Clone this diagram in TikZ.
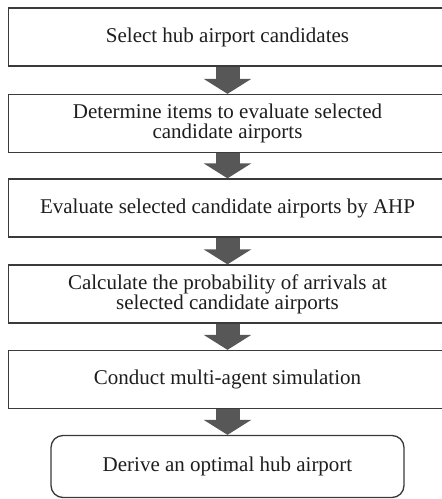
\documentclass[tikz,border=0pt]{standalone}
\usepackage{fontspec}
\setmainfont{Liberation Serif}
\usetikzlibrary{arrows.meta}
\definecolor{boxline}{HTML}{3A3A3A}
\definecolor{arrowgray}{HTML}{575757}
\definecolor{txt}{HTML}{1E1E1E}
\begin{document}
\begin{tikzpicture}[x=1pt,y=-1pt,
  stepbox/.style={draw=boxline,line width=1.3pt,fill=white,minimum width=438pt,
    minimum height=58pt,inner sep=0pt,align=center,text=txt,
    font=\fontsize{21}{20}\selectfont},
  endbox/.style={stepbox,rounded corners=12pt,minimum width=353pt,minimum height=62pt},
  flowarrow/.style={draw=arrowgray,line width=24pt,
    -{Triangle[width=47pt,length=15pt,fill=arrowgray]}}]
\useasboundingbox (0,0) rectangle (442,499);
\node[stepbox] (b1) at (227.5,37) {Select hub airport candidates};
\node[stepbox] (b2) at (227.5,123.5) {Determine items to evaluate selected\\candidate airports};
\node[stepbox] (b3) at (227.5,208) {Evaluate selected candidate airports by AHP};
\node[stepbox] (b4) at (227.5,294) {Calculate the probability of arrivals at\\selected candidate airports};
\node[stepbox] (b5) at (227.5,379.5) {Conduct multi-agent simulation};
\node[endbox] (b6) at (227.5,466.5) {Derive an optimal hub airport};
\draw[flowarrow] (b1.south) -- (b2.north);
\draw[flowarrow] (b2.south) -- (b3.north);
\draw[flowarrow] (b3.south) -- (b4.north);
\draw[flowarrow] (b4.south) -- (b5.north);
\draw[flowarrow] (b5.south) -- (b6.north);
\end{tikzpicture}
\end{document}
